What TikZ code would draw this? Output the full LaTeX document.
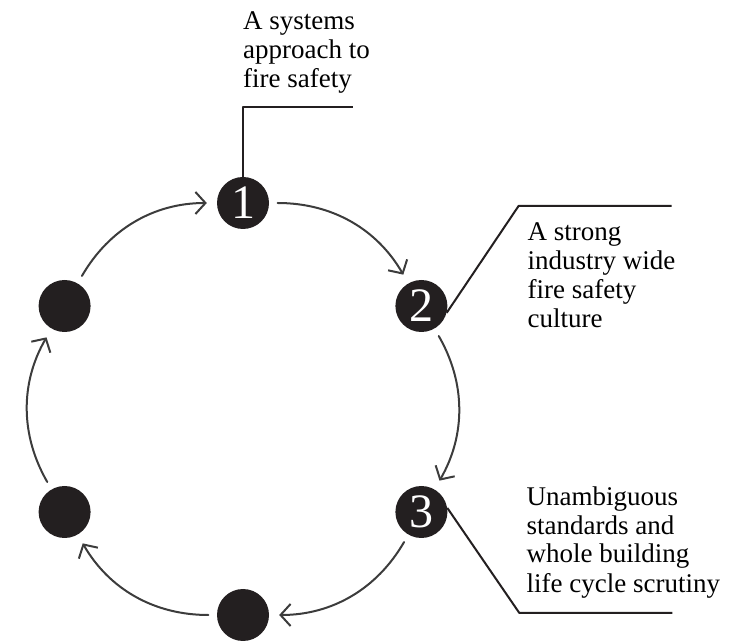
\documentclass[tikz,border=0pt]{standalone}
\usepackage{fontspec}
\setmainfont{Liberation Serif}
\usetikzlibrary{arrows.meta}
\definecolor{ink}{HTML}{231F20}
\definecolor{arcgray}{HTML}{3C3C3C}
\begin{document}
\begin{tikzpicture}[x=1pt,y=1pt,line join=round,line cap=round,>={Straight Barb[length=10pt,width=22pt]},font=\fontsize{27}{29}\selectfont,
	dot/.style={circle,fill=ink,inner sep=0pt,minimum size=52pt,text=white,font=\fontsize{48}{48}\selectfont},
	flow/.style={->,draw=arcgray,line width=2pt,shorten <=8.5pt,shorten >=10pt},
	lead/.style={draw=ink,line width=2pt,line cap=butt},
	txt/.style={align=left,inner sep=0pt,anchor=base west}]
			\useasboundingbox (0,0) rectangle (747,640);
			%%Points
			\path (243,231) coordinate(O);
			\foreach \n/\a/\t in {c1/90/1,c2/30/2,c3/-30/3,c4/-90/,c5/-150/,c6/150/}{
					\path (O)++(\a:206) node[dot](\n){\t};
				}
			%%Arcs
			\foreach \p/\q in {c6/c1,c1/c2,c2/c3,c3/c4,c4/c5,c5/c6}{
					\draw[flow] (\p) to[bend left=30] (\q);
				}
			%%Leaders
			\draw[lead] (c1.north)--++(0,70)--++(110,0)coordinate(e1);
			\draw[lead] (c2.-15)--++(72,107)--++(153,0)coordinate(e2);
			\draw[lead] (c3.9)--++(72,-105)--++(153,0)coordinate(e3);
			%%Labels (base = last line)
			\node[txt] (t1) at ([shift={(0,115)}]c1) {A systems\\approach to\\fire safety};
			\node[txt] (t2) at ([shift={(106,-22)}]c2) {A strong\\industry wide\\fire safety\\culture};
			\node[txt] (t3) at ([shift={(105,-80)}]c3) {Unambiguous\\standards and\\whole building\\life cycle scrutiny};
		\end{tikzpicture}
\end{document}
